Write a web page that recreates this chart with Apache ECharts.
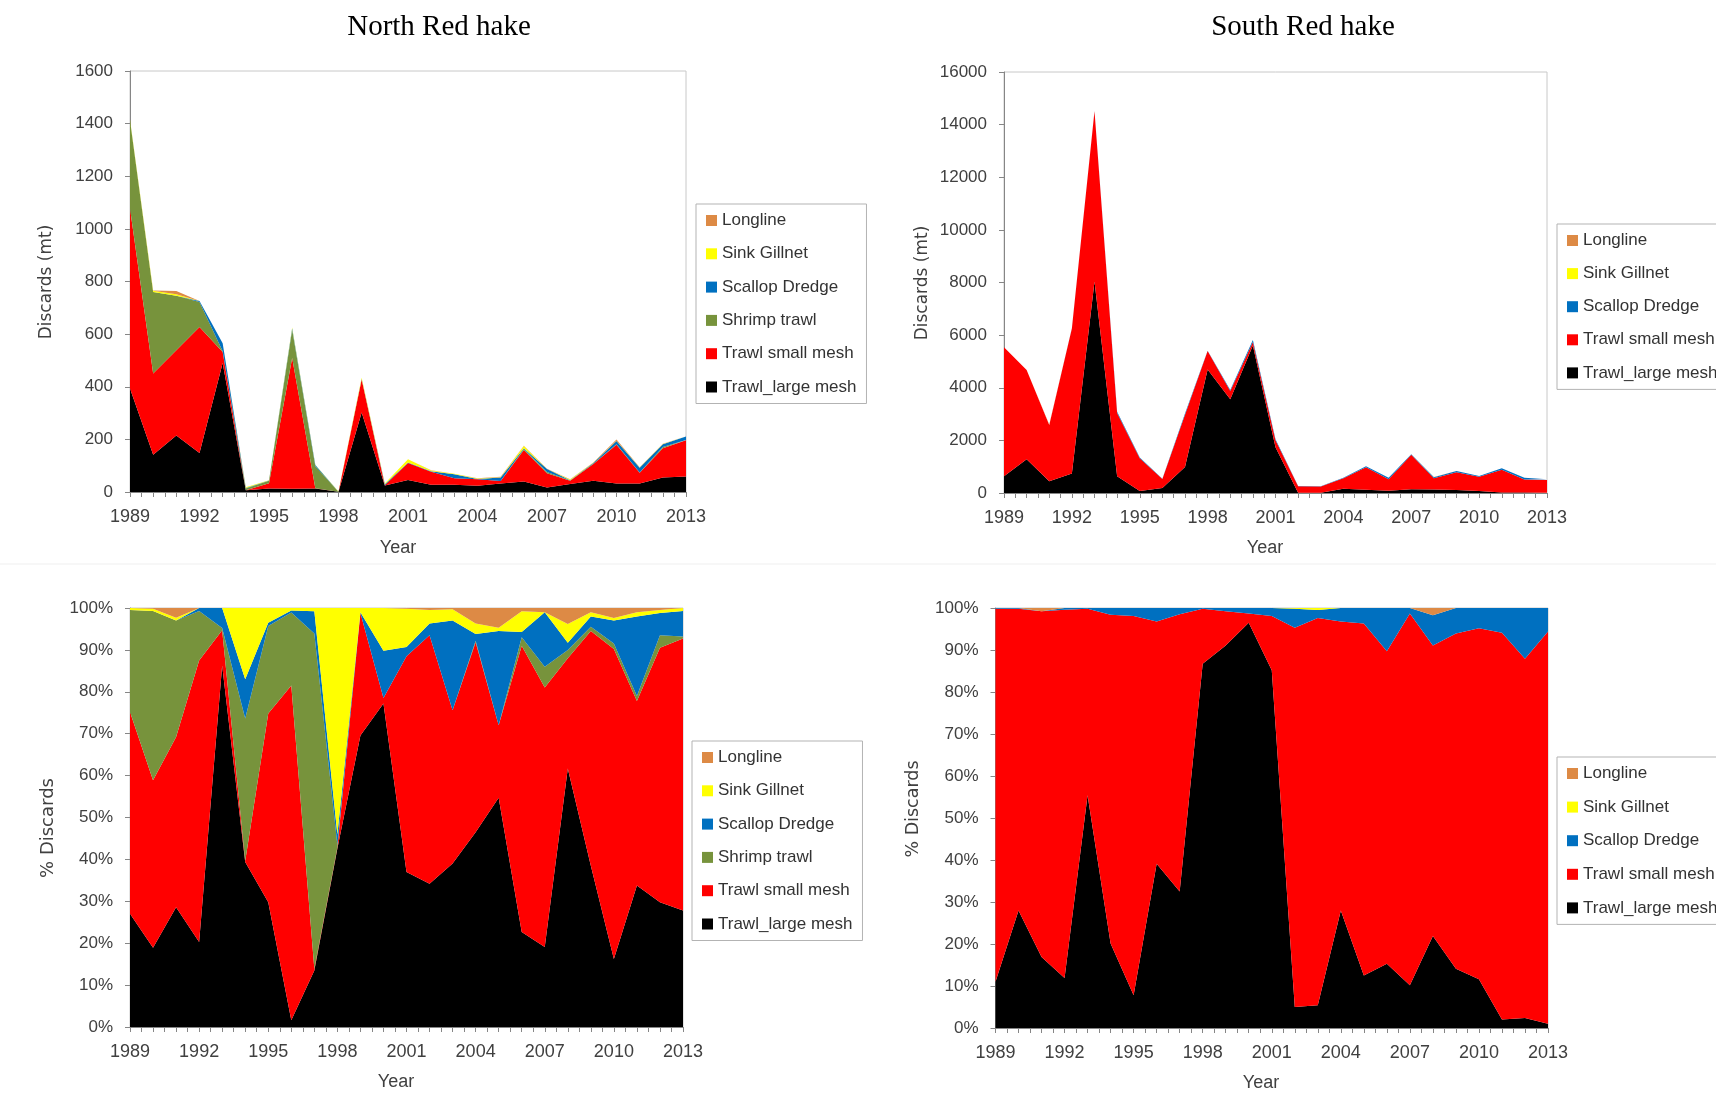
<!DOCTYPE html>
<html><head><meta charset="utf-8">
<script src="https://cdn.jsdelivr.net/npm/echarts@6/dist/echarts.min.js"></script>
<style>html,body{margin:0;padding:0;background:#fff}#c{width:1716px;height:1096px}</style>
</head><body><div id="c"></div>
<script>
const years = [1989,1990,1991,1992,1993,1994,1995,1996,1997,1998,1999,2000,2001,2002,2003,2004,2005,2006,2007,2008,2009,2010,2011,2012,2013];
const tickYearsShown = [1989,1992,1995,1998,2001,2004,2007,2010,2013];

const gearColors = {'Trawl_large mesh':'#000000','Trawl small mesh':'#FF0000','Shrimp trawl':'#77933C','Scallop Dredge':'#0070C0','Sink Gillnet':'#FFFF00','Longline':'#DD8A45'};
const legendNorth = ['Longline','Sink Gillnet','Scallop Dredge','Shrimp trawl','Trawl small mesh','Trawl_large mesh'];
const legendSouth = ['Longline','Sink Gillnet','Scallop Dredge','Trawl small mesh','Trawl_large mesh'];

// North Red hake, discards (mt)
const northLarge   = [393,142,215,148,490,7,13.5,12,13.5,0.8,302,25,46,28,27.5,24,32,40,17,30,43,32,32,55,59];
const northSmall   = [684,308,324,479,42,0.1,20,497,0.5,0.02,126,0.5,64,49,25,24,10,120,54.5,13,63,148,41.5,111,138];
const northShrimp  = [336,310,207,95,3,6,9.7,107,84,0.02,0,0,0,0,0,0.5,0,3.5,4.5,1,1.2,1.5,1,5,1];
const northScallop = [0,0,0,4,30,1.7,0.5,5,5,0.04,1,3.5,2.5,2,14.5,1,13.5,2.5,11.5,0.8,2.8,12,18,10,13];
const northGillnet = [3,5,6,0,0,3,1.4,4,1,1.1,5,3,11.5,3,2,1.5,0.3,8.5,0,2.3,1,1,1,1,1.3];
const northLongline= [0,1,12,0,0,0,0,0,0,0,0,0,0.3,0.4,0.5,1.5,2.6,1.4,0.8,1.8,1,5,0.7,0.9,0];

// South Red hake, discards (mt)
const southLarge   = [635,1283,444,737,8041,635,76,190,990,4690,3563,5610,1741,13,14,164,127,90,147,134,117,75,19,15,5];
const southSmall   = [4902,3390,2139,5518,6463,2401,1244,339,1987,709,317,130,264,241,234,401,851,434,1307,422,670,542,866,498,487];
const southScallop = [0,0,0,5,10,50,26,17,45,11,31,76,39,12.5,5,19,38,60,19,44,51,31,55,71,29];
const southGillnet = [0,0,0,0,0,0,0,0,0,0,0,0,0,0,1,0,0,0,0,0,0,0,0,0,0];
const southLongline= [0,0,20,0,0,0,0,0,0,0,0,0,0,0,0,0,0,0,0,10,0,0,0,0,0];

// North Red hake, % discards
const northPctLarge   = [27,18.9,28.6,20.3,86.3,39.4,29.8,1.6,13.5,42.6,69.6,77.2,37,34.2,39,46.5,54.7,22.7,19.1,61.7,38.5,16.2,33.8,29.8,27.8];
const northPctSmall   = [48.2,40,40.6,67.2,8.4,0.2,45,79.9,0.4,0.3,29.2,1.3,51.5,59.3,36.6,45.3,17.3,68.3,61.9,26.3,56,74,44,60.7,64.9];
const northPctShrimp  = [24.3,40.4,27.8,11.8,0.5,34,20.9,17.4,80,0.6,0,0,0,0,0,0.4,0,2,5,2,1,1.3,1.2,3,0.5];
const northPctScallop = [0,0,0,0.7,4.8,9.4,0.8,0.5,5.3,2.5,0.2,11.3,2.2,2.8,21.4,1.6,22.5,1.3,13,1.7,2.5,5.5,19,5.3,6.1];
const northPctGillnet = [0.5,0.5,0.7,0,0,17,3.5,0.6,0.8,54,1,10.2,9.1,3.2,2.7,2.5,0.8,4.9,0,4.5,1,0.6,1,0.7,0.7];
const northPctLongline= [0,0.2,2.3,0,0,0,0,0,0,0,0,0,0.2,0.5,0.3,3.7,4.7,0.8,1,3.8,1,2.4,1,0.5,0];

// South Red hake, % discards
const southPctLarge   = [11,28,16.9,11.9,55.4,20.1,7.8,39.1,32.5,86.7,91.1,96.5,85.2,5,5.4,28,12.5,15.3,10.2,21.9,14.1,11.6,2,2.4,1];
const southPctSmall   = [88.8,71.8,82.3,87.7,44.4,78.3,90.3,57.7,66,13.1,8.1,2.2,12.9,90.3,92.2,68.8,83.8,74.4,88.5,69.2,79.8,83.6,92.1,85.5,93.4];
const southPctScallop = [0.2,0.2,0,0.4,0.2,1.6,1.9,3.2,1.5,0.2,0.8,1.3,1.9,4.5,1.9,3.2,3.7,10.3,1.3,7.2,6.1,4.8,5.9,12.1,5.6];
const southPctGillnet = [0,0,0,0,0,0,0,0,0,0,0,0,0,0.2,0.5,0,0,0,0,0,0,0,0,0,0];
const southPctLongline= [0,0,0.8,0,0,0,0,0,0,0,0,0,0,0,0,0,0,0,0,1.7,0,0,0,0,0];

const FONT = "'Liberation Sans', Arial, sans-serif";
const SERIF = "'Liberation Serif', 'Times New Roman', serif";
const DEJAVU = "'DejaVu Sans', Verdana, sans-serif";
const AXIS_COLOR = '#868686';
const LABEL_COLOR = '#404040';

const grids = [
  {left:130, top:71, width:556, height:421},
  {left:1004, top:72, width:543, height:421},
  {left:130, top:608, width:553, height:419},
  {left:995.5, top:608, width:552.5, height:420}
];

const xAxes = [];
grids.forEach((g, i) => {
  xAxes.push({
    type:'value', gridIndex:i, min:1989, max:2013, interval:0.5, position:'bottom',
    axisLine:{show:true, onZero:false, lineStyle:{color:AXIS_COLOR, width:1}},
    axisTick:{show:true, length:5, lineStyle:{color:AXIS_COLOR}},
    splitLine:{show:false},
    axisLabel:{show:true, margin:16, fontSize:18, color:LABEL_COLOR, fontFamily:FONT,
      formatter: v => tickYearsShown.indexOf(v) >= 0 ? String(v) : ''}
  });
  xAxes.push({type:'category', gridIndex:i, data:years, boundaryGap:false, show:false});
});

const yAxes = [
  {max:1600, interval:200, pct:false},
  {max:16000, interval:2000, pct:false},
  {max:100, interval:10, pct:true},
  {max:100, interval:10, pct:true}
].map((a, i) => ({
  type:'value', gridIndex:i, min:0, max:a.max, interval:a.interval,
  axisLine:{show:true, lineStyle:{color:AXIS_COLOR, width:1}},
  axisTick:{show:true, length:5, lineStyle:{color:AXIS_COLOR}},
  splitLine:{show:false},
  axisLabel:{margin:17, fontSize:17, color:LABEL_COLOR, fontFamily:FONT,
    formatter: v => String(v) + (a.pct ? '%' : '')}
}));

function area(name, data, gi) {
  const c = gearColors[name];
  return {
    name, type:'line', data, xAxisIndex:2*gi+1, yAxisIndex:gi, stack:'s'+gi,
    symbol:'none', showSymbol:false, smooth:false,
    lineStyle:{width:0, color:c}, itemStyle:{color:c},
    areaStyle:{color:c, opacity:1}, animation:false, silent:true
  };
}

const series = [
  area('Trawl_large mesh', northLarge, 0),
  area('Trawl small mesh', northSmall, 0),
  area('Shrimp trawl', northShrimp, 0),
  area('Scallop Dredge', northScallop, 0),
  area('Sink Gillnet', northGillnet, 0),
  area('Longline', northLongline, 0),

  area('Trawl_large mesh', southLarge, 1),
  area('Trawl small mesh', southSmall, 1),
  area('Scallop Dredge', southScallop, 1),
  area('Sink Gillnet', southGillnet, 1),
  area('Longline', southLongline, 1),

  area('Trawl_large mesh', northPctLarge, 2),
  area('Trawl small mesh', northPctSmall, 2),
  area('Shrimp trawl', northPctShrimp, 2),
  area('Scallop Dredge', northPctScallop, 2),
  area('Sink Gillnet', northPctGillnet, 2),
  area('Longline', northPctLongline, 2),

  area('Trawl_large mesh', southPctLarge, 3),
  area('Trawl small mesh', southPctSmall, 3),
  area('Scallop Dredge', southPctScallop, 3),
  area('Sink Gillnet', southPctGillnet, 3),
  area('Longline', southPctLongline, 3)
];

function legend(names, left, top, gap) {
  return {
    data:names, orient:'vertical', left, top, icon:'rect', itemWidth:11, itemHeight:11, itemGap:gap,
    padding:[8,10,8,10], borderColor:'#b3b3b3', borderWidth:1, backgroundColor:'#ffffff',
    selectedMode:false,
    textStyle:{fontSize:17, lineHeight:17, color:'#333333', fontFamily:FONT}
  };
}

function txt(text, x, y, size, family, rot) {
  return {type:'text', x, y, rotation: rot || 0, silent:true,
    style:{text, fontSize:size, fontFamily:family, fill: family === SERIF ? '#000' : LABEL_COLOR,
      textAlign:'center', textVerticalAlign:'middle'}};
}

const chart = echarts.init(document.getElementById('c'), null, {renderer:'canvas'});
chart.setOption({
  backgroundColor:'#ffffff',
  animation:false,
  grid: grids.map(g => Object.assign({show:true, borderColor:'#c8c8c8', borderWidth:1, backgroundColor:'transparent', containLabel:false}, g)),
  xAxis: xAxes,
  yAxis: yAxes,
  legend: [
    legend(legendNorth, 696, 204, 16.3),
    legend(legendSouth, 1557, 224, 16.1),
    legend(legendNorth, 692, 741, 16.3),
    legend(legendSouth, 1557, 757, 16.6)
  ],
  graphic: [
    {type:'line', shape:{x1:0, y1:564, x2:1716, y2:564}, style:{stroke:'#efefef', lineWidth:1}, silent:true},
    txt('North Red hake', 439, 27, 29, SERIF),
    txt('South Red hake', 1303, 27, 29, SERIF),
    txt('Year', 398, 548, 18, FONT),
    txt('Year', 1265, 548, 18, FONT),
    txt('Year', 396, 1082, 18, FONT),
    txt('Year', 1261, 1083, 18, FONT),
    txt('Discards (mt)', 47, 282, 17, DEJAVU, Math.PI/2),
    txt('Discards (mt)', 923, 283, 17, DEJAVU, Math.PI/2),
    txt('% Discards', 48, 828, 18, DEJAVU, Math.PI/2),
    txt('% Discards', 913, 809, 17.5, DEJAVU, Math.PI/2)
  ],
  series
});
</script>
</body></html>
